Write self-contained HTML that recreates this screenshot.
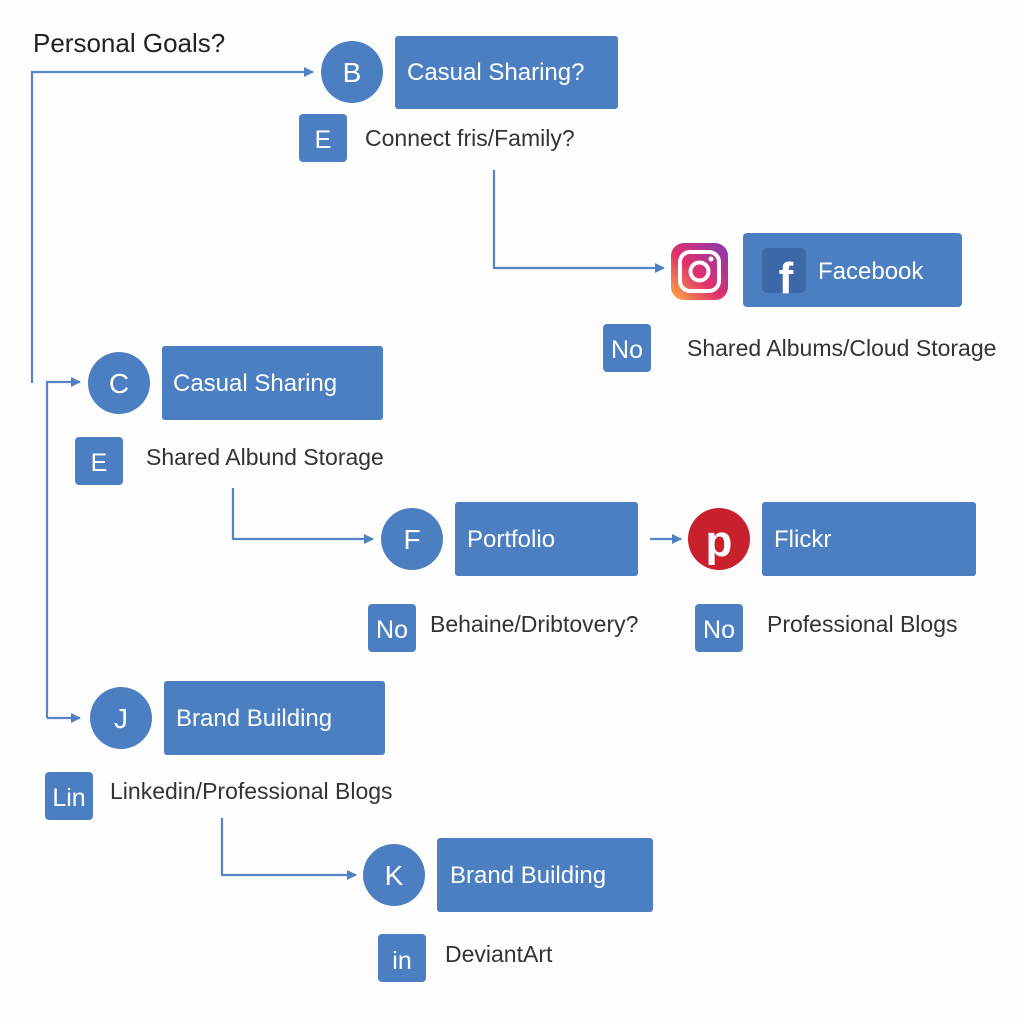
<!DOCTYPE html>
<html><head><style>
body{margin:0;background:#fdfdfe;}
svg{display:block}
text{font-family:"Liberation Sans",sans-serif}
</style></head><body>
<svg width="1024" height="1024" viewBox="0 0 1024 1024">
<defs>
<marker id="a" markerWidth="10" markerHeight="10" refX="9" refY="5" orient="auto" markerUnits="userSpaceOnUse"><path d="M0,0 L10,5 L0,10 z" fill="#4f80c2"/></marker>
<linearGradient id="ig" x1="0" y1="1" x2="1" y2="0"><stop offset="0" stop-color="#fbb040"/><stop offset="0.45" stop-color="#e1306c"/><stop offset="1" stop-color="#833ab4"/></linearGradient>
</defs>
<g fill="none" stroke="#5585c5" stroke-width="2.2">
<path d="M32,383 V72 H313" marker-end="url(#a)"/>
<path d="M47,718 V382 H80" marker-end="url(#a)"/>
<path d="M47,718 H80" marker-end="url(#a)"/>
<path d="M494,170 V268 H664" marker-end="url(#a)"/>
<path d="M233,488 V539 H373" marker-end="url(#a)"/>
<path d="M650,539 H681" marker-end="url(#a)"/>
<path d="M222,818 V875 H356" marker-end="url(#a)"/>
</g>
<text x="33" y="52" font-size="26" fill="#222">Personal Goals?</text>
<g fill="#4b7fc1">
<circle cx="352" cy="72" r="31"/>
<rect x="395" y="36" width="223" height="73" rx="3"/>
<rect x="299" y="114" width="48" height="48" rx="4"/>
<rect x="743" y="233" width="219" height="74" rx="4"/>
<rect x="603" y="324" width="48" height="48" rx="4"/>
<circle cx="119" cy="383" r="31"/>
<rect x="162" y="346" width="221" height="74" rx="3"/>
<rect x="75" y="437" width="48" height="48" rx="4"/>
<circle cx="412" cy="539" r="31"/>
<rect x="455" y="502" width="183" height="74" rx="3"/>
<rect x="762" y="502" width="214" height="74" rx="3"/>
<rect x="368" y="604" width="48" height="48" rx="4"/>
<rect x="695" y="604" width="48" height="48" rx="4"/>
<circle cx="121" cy="718" r="31"/>
<rect x="164" y="681" width="221" height="74" rx="3"/>
<rect x="45" y="772" width="48" height="48" rx="4"/>
<circle cx="394" cy="875" r="31"/>
<rect x="437" y="838" width="216" height="74" rx="3"/>
<rect x="378" y="934" width="48" height="48" rx="4"/>
</g>
<rect x="762" y="248" width="44" height="45" rx="5" fill="#3c67a8"/>
<text x="786" y="293" font-size="44" font-weight="bold" fill="#fff" text-anchor="middle">f</text>
<rect x="671" y="243" width="57" height="57" rx="13" fill="url(#ig)"/>
<rect x="680" y="252" width="39" height="39" rx="10" fill="none" stroke="#fff" stroke-width="4"/>
<circle cx="699.5" cy="271.5" r="9" fill="none" stroke="#fff" stroke-width="4"/>
<circle cx="711" cy="259" r="2.5" fill="#fff"/>
<circle cx="719" cy="539" r="31" fill="#c8202c"/>
<text x="719" y="556" font-size="44" font-weight="bold" fill="#fff" text-anchor="middle" font-family="Liberation Serif">p</text>
<g fill="#fff" font-size="28" text-anchor="middle">
<text x="352" y="82">B</text><text x="323" y="148" font-size="25">E</text>
<text x="627" y="358" font-size="25">No</text>
<text x="119" y="393">C</text><text x="99" y="471" font-size="25">E</text>
<text x="412" y="549">F</text>
<text x="392" y="638" font-size="25">No</text><text x="719" y="638" font-size="25">No</text>
<text x="121" y="728">J</text><text x="69" y="806" font-size="25">Lin</text>
<text x="394" y="885">K</text><text x="402" y="969" font-size="25">in</text>
</g>
<g fill="#fff" font-size="24">
<text x="407" y="80">Casual Sharing?</text>
<text x="818" y="279">Facebook</text>
<text x="173" y="391">Casual Sharing</text>
<text x="467" y="547">Portfolio</text>
<text x="774" y="547">Flickr</text>
<text x="176" y="726">Brand Building</text>
<text x="450" y="883">Brand Building</text>
</g>
<g fill="#333" font-size="23">
<text x="365" y="146">Connect fris/Family?</text>
<text x="687" y="356">Shared Albums/Cloud Storage</text>
<text x="146" y="465">Shared Albund Storage</text>
<text x="430" y="632">Behaine/Dribtovery?</text>
<text x="767" y="632">Professional Blogs</text>
<text x="110" y="799">Linkedin/Professional Blogs</text>
<text x="445" y="962">DeviantArt</text>
</g>
</svg>
</body></html>
